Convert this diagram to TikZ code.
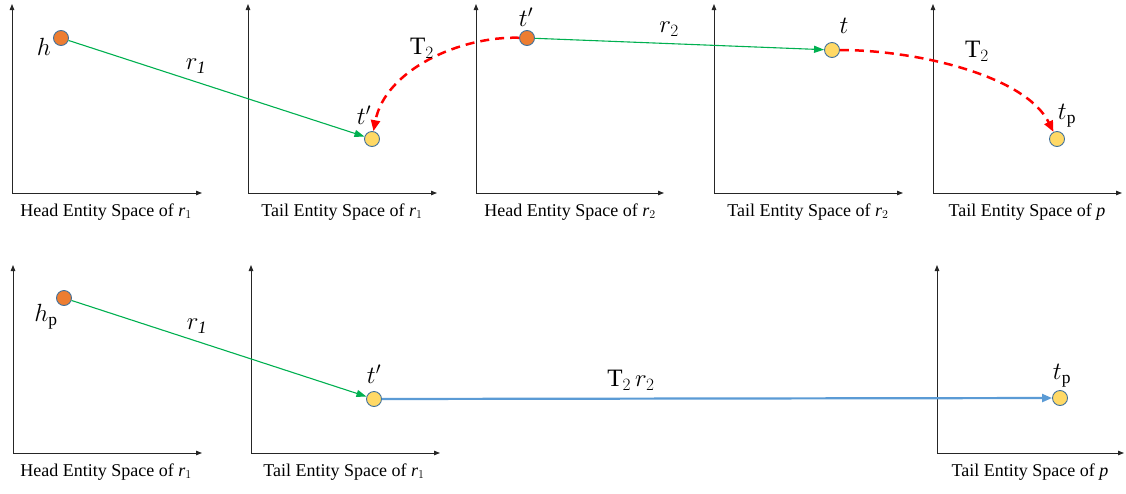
\documentclass[tikz,border=0pt]{standalone}
\usepackage{fontspec}
\setmainfont{Liberation Serif}
\usetikzlibrary{arrows.meta}
\definecolor{orangec}{HTML}{ED7D31}
\definecolor{yellowc}{HTML}{FFD966}
\definecolor{bordc}{HTML}{41719C}
\definecolor{greenc}{HTML}{00B050}
\definecolor{redc}{HTML}{FF0000}
\definecolor{bluec}{HTML}{5B9BD5}
\tikzset{
  ent/.style={circle, minimum size=15pt, inner sep=0pt, draw=bordc, line width=0.9pt},
  hent/.style={ent, fill=orangec},
  tent/.style={ent, fill=yellowc},
  axisline/.style={-{Triangle[length=6pt,width=4.5pt]}, line width=0.9pt, draw=black!85},
  garrow/.style={-{Triangle[length=10pt,width=7pt]}, draw=greenc, line width=1.1pt},
  rarrow/.style={-{Triangle[length=11pt,width=9pt]}, draw=redc, line width=2.5pt, dash pattern=on 9pt off 6pt},
  barrow/.style={-{Triangle[length=10pt,width=8pt]}, draw=bluec, line width=2.2pt},
  axlbl/.style={font=\fontsize{18}{20}\selectfont, inner sep=0pt},
  mlbl/.style={font=\fontsize{25}{27}\selectfont, inner sep=0pt},
}
\newcommand{\spr}[1]{$\mathit{r}_{#1}$}
\begin{document}
\begin{tikzpicture}[x=1pt, y=-1pt]
\useasboundingbox (0,0) rectangle (1126,493);
% top row axes
\foreach \ox/\ex in {12/202, 248/437, 476/664, 714/903, 933/1122} {
  \draw[axisline] (\ox,193) -- (\ox,4);
  \draw[axisline] (\ox,193) -- (\ex,193);
}
% bottom row axes
\foreach \ox/\ex in {13/202, 251/440, 937/1124} {
  \draw[axisline] (\ox,453) -- (\ox,265);
  \draw[axisline] (\ox,453) -- (\ex,453);
}
% axis labels
\node[axlbl] (la1) at (106,212) {Head Entity Space of \spr{1}};
\node[axlbl] (la2) at (342,212) {Tail Entity Space of \spr{1}};
\node[axlbl] (la3) at (570,212) {Head Entity Space of \spr{2}};
\node[axlbl] (la4) at (808,212) {Tail Entity Space of \spr{2}};
\node[axlbl] (la5) at (1027,212) {Tail Entity Space of $\mathit{p}$};
\node[axlbl] (lb1) at (106,472) {Head Entity Space of \spr{1}};
\node[axlbl] (lb2) at (344,472) {Tail Entity Space of \spr{1}};
\node[axlbl] (lb5) at (1030,472) {Tail Entity Space of $\mathit{p}$};

% entities top
\node[hent] (h) at (61,38) {};
\node[tent] (ty1) at (372,139) {};
\node[hent] (to2) at (527,38) {};
\node[tent] (t) at (832,50) {};
\node[tent] (tp) at (1057,139) {};
% entities bottom
\node[hent] (hp) at (64,298) {};
\node[tent] (ty3) at (374,399) {};
\node[tent] (tp3) at (1060,398) {};

% connectors top
\draw[garrow] (h) -- (ty1);
\draw[garrow] (to2) -- (t);
\draw[rarrow] (to2) .. controls (460,36) and (385,70) .. (ty1);
\draw[rarrow] (t) .. controls (915,50) and (1025,75) .. (tp);
% connectors bottom
\draw[garrow] (hp) -- (ty3);
\draw[barrow] (ty3) -- (tp3);

% math labels top
\node[mlbl] (lh) at (44,47) {$h$};
\node[mlbl] (lr1) at (196,66) {$r_{\mathit{1}}$};
\node[mlbl] (lt1) at (364,115) {$t'$};
\node[mlbl] (lT1) at (422,48) {$\mathrm{T}_2$};
\node[mlbl] (lt2) at (526,17) {$t'$};
\node[mlbl] (lr2) at (669,29) {$r_2$};
\node[mlbl] (lt) at (844,26) {$t$};
\node[mlbl] (lT2) at (977,51) {$\mathrm{T}_2$};
\node[mlbl] (ltp) at (1067,116) {$t_{\mathrm{p}}$};
% math labels bottom
\node[mlbl] (lhp) at (46,317) {$h_{\mathrm{p}}$};
\node[mlbl] (lr1b) at (197,326) {$r_{\mathit{1}}$};
\node[mlbl] (lt3) at (374,374) {$t'$};
\node[mlbl] (lT2r2) at (631,380) {$\mathrm{T}_2\,r_2$};
\node[mlbl] (ltp3) at (1062,376) {$t_{\mathrm{p}}$};
\end{tikzpicture}
\end{document}
